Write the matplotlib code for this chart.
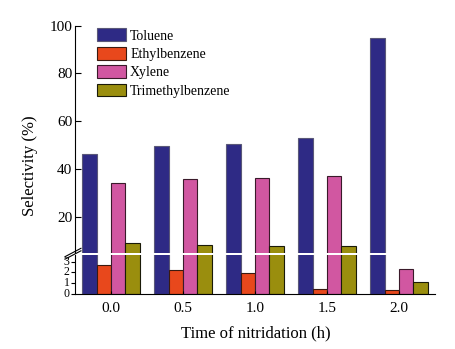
import numpy as np
import matplotlib
matplotlib.use('Agg')
import matplotlib.pyplot as plt

plt.rcParams['font.family'] = 'Liberation Serif'

times = [0.0, 0.5, 1.0, 1.5, 2.0]
tick_labels = ['0.0', '0.5', '1.0', '1.5', '2.0']
series = ['Toluene', 'Ethylbenzene', 'Xylene', 'Trimethylbenzene']
toluene = [46.2, 49.8, 50.4, 52.9, 94.7]
ethylbenzene = [2.65, 2.2, 1.95, 0.42, 0.33]
xylene = [34.1, 35.7, 36.1, 37.1, 2.3]
trimethylbenzene = [9.0, 8.1, 7.7, 7.7, 1.1]
colors = ['#2e2a85', '#e8481c', '#d157a1', '#9a8e0e']
edges = ['#5a5878', '#3a1a10', '#3a1a2a', '#1a1a08']

values = [toluene, ethylbenzene, xylene, trimethylbenzene]

fig = plt.figure(figsize=(4.56, 3.49), dpi=100)
ax_top = fig.add_axes([0.1645, 0.2765, 0.7895, 0.65])
ax_bot = fig.add_axes([0.1645, 0.1576, 0.7895, 0.1117])

x = np.array(times)
w = 0.1
for ax in (ax_top, ax_bot):
    for i, (name, vals) in enumerate(zip(series, values)):
        ax.bar(x + (i - 1.5) * w, vals, width=w, color=colors[i],
               edgecolor=edges[i], linewidth=0.8, label=name)
    ax.set_xlim(-0.25, 2.25)

ax_top.set_ylim(5, 100)
ax_top.set_yticks([20, 40, 60, 80, 100])
ax_top.spines['top'].set_visible(False)
ax_top.spines['right'].set_visible(False)
ax_top.spines['bottom'].set_visible(False)
ax_top.set_xticks([])
ax_top.tick_params(axis='y', direction='in', length=4, labelsize=11, pad=2)

ax_bot.set_ylim(0, 3.6)
ax_bot.set_yticks([0, 1, 2, 3])
ax_bot.spines['top'].set_visible(False)
ax_bot.spines['right'].set_visible(False)
ax_bot.set_xticks(times)
ax_bot.set_xticklabels(tick_labels)
ax_bot.tick_params(axis='y', direction='out', length=3, labelsize=8.5, pad=1)
ax_bot.tick_params(axis='x', direction='in', length=2, labelsize=11, pad=6)
for lbl in ax_bot.get_yticklabels():
    lbl.set_verticalalignment('center')

# break marks on the y axis
for yy in (0.2765, 0.2693):
    fig.lines.append(plt.Line2D([0.1425, 0.1775], [yy - 0.012, yy + 0.012],
                                transform=fig.transFigure, color='black', lw=0.8))

leg = ax_top.legend(loc='upper left', bbox_to_anchor=(0.045, 1.012), frameon=False,
                    fontsize=10, handlelength=2.1, handleheight=1.05,
                    labelspacing=0.3, handletextpad=0.3, borderaxespad=0)

fig.text(0.066, 0.526, 'Selectivity (%)', rotation=90, ha='center', va='center', fontsize=12)
fig.text(0.56, 0.045, 'Time of nitridation (h)', ha='center', va='center', fontsize=12)

fig.savefig('out.png', dpi=100)
